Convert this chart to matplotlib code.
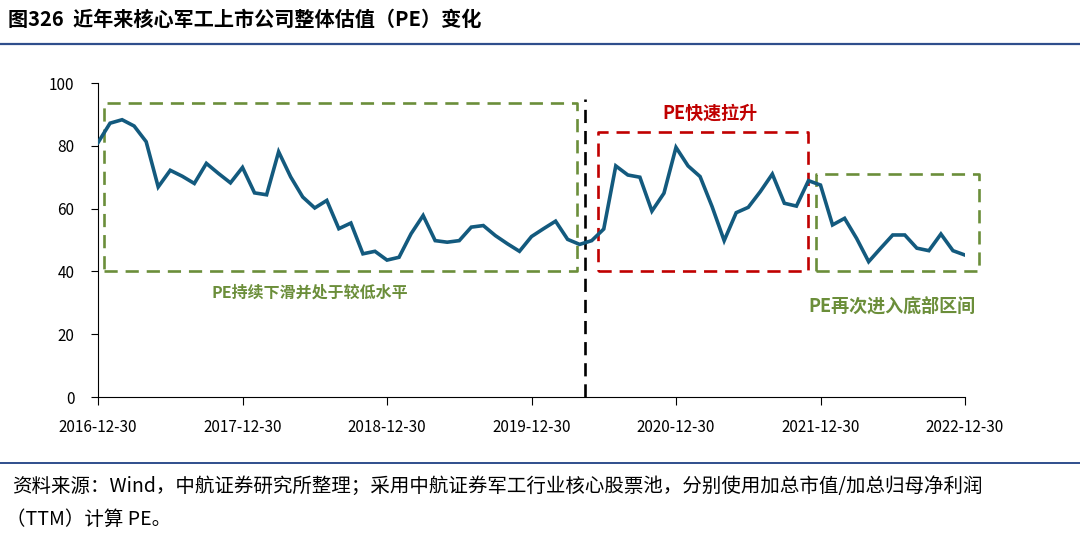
import matplotlib.pyplot as plt
from matplotlib.lines import Line2D

plt.rcParams['font.family'] = ['Noto Sans CJK SC', 'DejaVu Sans']

#-----------------------------------------------------------------------
# data (monthly PE, 2016-12 .. 2022-12)
#-----------------------------------------------------------------------
pe_2016 = [81.0]
pe_2017 = [87.2, 88.3, 86.3, 81.3, 66.9, 72.2, 70.3, 68.0, 74.4, 71.2, 68.2, 73.1]
pe_2018 = [65.0, 64.4, 78.1, 70.1, 63.7, 60.2, 62.6, 53.6, 55.4, 45.6, 46.4, 43.6]
pe_2019 = [44.5, 52.0, 57.8, 49.8, 49.3, 49.8, 54.1, 54.6, 51.4, 48.8, 46.4, 51.1]
pe_2020 = [53.6, 56.0, 50.2, 48.6, 49.8, 53.5, 73.6, 70.7, 70.0, 59.2, 64.9, 79.5]
pe_2021 = [73.6, 70.2, 60.6, 49.8, 58.7, 60.4, 65.4, 71.0, 61.7, 60.8, 68.9, 67.5]
pe_2022 = [54.8, 56.9, 50.5, 43.1, 47.4, 51.6, 51.6, 47.4, 46.6, 51.9, 46.6, 45.2]
pe = pe_2016 + pe_2017 + pe_2018 + pe_2019 + pe_2020 + pe_2021 + pe_2022

tick_labels = ['2016-12-30', '2017-12-30', '2018-12-30', '2019-12-30',
               '2020-12-30', '2021-12-30', '2022-12-30']

title = '图326  近年来核心军工上市公司整体估值（PE）变化'
source1 = '资料来源：Wind，中航证券研究所整理；采用中航证券军工行业核心股票池，分别使用加总市值/加总归母净利润'
source2 = '（TTM）计算 PE。'

# boxes: (x0, x1, y0, y1) in month index / PE units
box_down = (0.5, 39.8, 40, 93.6)
box_up = (41.5, 59.0, 40, 84.4)
box_low = (59.6, 73.2, 40, 70.9)
split_x = 40.45

green = '#6B8E3A'
red = '#C00000'
blue = '#135A7E'

#-----------------------------------------------------------------------
# figure
#-----------------------------------------------------------------------
fig = plt.figure(figsize=(10.8, 5.45), dpi=100)
ax = fig.add_axes([98 / 1080, 1 - 397 / 545, (965 - 98) / 1080, (397 - 83) / 545])

x = list(range(len(pe)))
ax.plot(x, pe, color=blue, lw=2.6, zorder=3, solid_joinstyle='miter')


def dashed_box(b, color):
    x0, x1, y0, y1 = b
    ax.plot([x0, x1, x1, x0, x0], [y0, y0, y1, y1, y0], color=color, lw=1.9,
            dashes=(5, 3), clip_on=False, zorder=2)


dashed_box(box_down, green)
dashed_box(box_up, red)
dashed_box(box_low, green)
ax.plot([split_x, split_x], [0, 95], color='black', lw=1.9, dashes=(5, 3), zorder=2)

ax.text(17.6, 33.4, 'PE持续下滑并处于较低水平', color=green, fontsize=11.5,
        fontweight='bold', ha='center', va='center')
ax.text(50.8, 90.4, 'PE快速拉升', color=red, fontsize=13,
        fontweight='bold', ha='center', va='center')
ax.text(65.9, 28.8, 'PE再次进入底部区间', color=green, fontsize=13,
        fontweight='bold', ha='center', va='center')

ax.set_xlim(0, 72)
ax.set_ylim(0, 100)
ax.set_yticks(range(0, 101, 20))
ax.set_xticks(range(0, 73, 12))
ax.set_xticklabels(tick_labels)
ax.spines['top'].set_visible(False)
ax.spines['right'].set_visible(False)
ax.tick_params(axis='y', direction='out', length=5, pad=12, labelsize=11)
ax.tick_params(axis='x', direction='out', length=6, pad=10, labelsize=11)

# header / footer
fig.text(8 / 1080, 1 - 19 / 545, title, fontsize=14.5, fontweight='bold',
         ha='left', va='center')
fig.add_artist(Line2D([0, 1], [1 - 44 / 545] * 2, color='#2F4E8C', lw=1.6))
fig.add_artist(Line2D([0, 1], [1 - 463 / 545] * 2, color='#2F4E8C', lw=1.4))
fig.text(12 / 1080, 1 - 486 / 545, source1, fontsize=14, ha='left', va='center')
fig.text(6 / 1080, 1 - 519 / 545, source2, fontsize=14, ha='left', va='center')

fig.savefig('out.png', dpi=100)
